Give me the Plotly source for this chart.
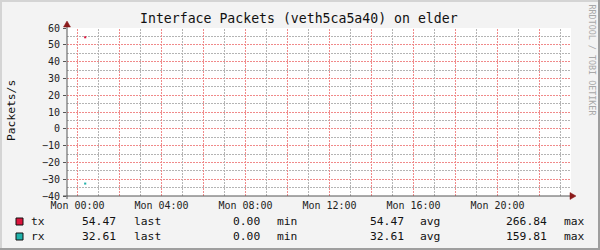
import plotly.graph_objects as go

# ---- data ----
series = ["tx", "rx"]
colors = ["#DC143C", "#20B2AA"]
times = ["2024-01-01 00:19", "2024-01-01 00:25"]
tx_values = [54.47, 54.47]
rx_values = [-32.61, -32.61]          # rx drawn below zero
last_vals = ["54.47", "32.61"]
min_vals = ["0.00", "0.00"]
avg_vals = ["54.47", "32.61"]
max_vals = ["266.84", "159.81"]
xtick_hours = [0, 2, 4, 6, 8, 10, 12, 14, 16, 18, 20, 22]
xtick_text = ["Mon 00:00", "", "Mon 04:00", "", "Mon 08:00", "", "Mon 12:00", "",
              "Mon 16:00", "", "Mon 20:00", ""]
xminor_hours = [1, 3, 5, 7, 9, 11, 13, 15, 17, 19, 21, 23]
yticks = [-40, -30, -20, -10, 0, 10, 20, 30, 40, 50, 60]
yminor = [-35, -25, -15, -5, 5, 15, 25, 35, 45, 55]

W, H = 600, 250
L, R, T, B = 67, 29, 28, 54
PW, PH = W - L - R, H - T - B
FONT = "DejaVu Sans Mono"
MAJOR = "#F08A8A"
MINOR = "#B4B4B4"
DASH = "2px,1px"


def xp(px):
    return (px - L) / PW


def yp(py):
    return (T + PH - py) / PH


tickvals = ["2024-01-01 %02d:00" % h for h in xtick_hours]
minorvals = ["2024-01-01 %02d:00" % h for h in xminor_hours]

fig = go.Figure()


def vgrid(vals, color):
    xs, ys = [], []
    for v in vals:
        xs += [v, v, None]
        ys += [yticks[0], yticks[-1], None]
    fig.add_trace(go.Scatter(x=xs, y=ys, mode="lines", line=dict(color=color, width=1, dash=DASH),
                             showlegend=False, hoverinfo="skip", connectgaps=False))


vgrid(minorvals, MINOR)
vgrid(tickvals, MAJOR)

for name, vals, c in zip(series, [tx_values, rx_values], colors):
    fig.add_trace(go.Scatter(x=times, y=vals, mode="lines", line=dict(color=c, width=2),
                             name=name, showlegend=False, hoverinfo="skip"))

fig.update_layout(
    width=W, height=H,
    margin=dict(l=L, r=R, t=T, b=B, pad=0),
    paper_bgcolor="#F3F3F3", plot_bgcolor="white",
    font=dict(family=FONT, size=10, color="#222"),
    xaxis=dict(
        type="date", range=["2023-12-31 23:30", "2024-01-01 23:30"],
        tickmode="array", tickvals=tickvals, ticktext=xtick_text,
        showgrid=False, showline=False, zeroline=False, ticks="", ticklabelstandoff=2,
        tickfont=dict(family=FONT, size=10, color="#222"),
    ),
    yaxis=dict(
        range=[-40, 60], tickmode="array", tickvals=yticks,
        showgrid=True, gridcolor=MAJOR, griddash=DASH, gridwidth=1,
        minor=dict(tickmode="array", tickvals=yminor, showgrid=True, gridcolor=MINOR,
                   griddash=DASH, gridwidth=1),
        showline=False, zeroline=False, ticks="outside", ticklen=3, tickcolor="#555",
        ticklabelstandoff=1,
        tickfont=dict(family=FONT, size=10, color="#222"),
    ),
)

shapes = []
# border
shapes.append(dict(type="rect", xref="paper", yref="paper", x0=xp(0), x1=xp(600), y0=yp(0), y1=yp(2),
                   fillcolor="#D4D4D4", line=dict(width=0), layer="above"))
shapes.append(dict(type="rect", xref="paper", yref="paper", x0=xp(0), x1=xp(2), y0=yp(0), y1=yp(250),
                   fillcolor="#D4D4D4", line=dict(width=0), layer="above"))
shapes.append(dict(type="rect", xref="paper", yref="paper", x0=xp(0), x1=xp(600), y0=yp(248), y1=yp(250),
                   fillcolor="#9E9E9E", line=dict(width=0), layer="above"))
shapes.append(dict(type="rect", xref="paper", yref="paper", x0=xp(598), x1=xp(600), y0=yp(0), y1=yp(250),
                   fillcolor="#9E9E9E", line=dict(width=0), layer="above"))
# axes
shapes.append(dict(type="line", xref="paper", yref="paper", x0=xp(63), x1=xp(572), y0=0, y1=0,
                   line=dict(color="#555", width=1), layer="above"))
shapes.append(dict(type="line", xref="paper", yref="paper", x0=0, x1=0, y0=yp(199), y1=yp(24),
                   line=dict(color="#555", width=1), layer="above"))
# arrows
shapes.append(dict(type="path", xref="paper", yref="paper",
                   path="M %f,%f L %f,%f L %f,%f Z" % (xp(63.5), yp(27), xp(70.5), yp(27), xp(67), yp(21)),
                   fillcolor="#8B1A1A", line=dict(color="#8B1A1A", width=0.5), layer="above"))
shapes.append(dict(type="path", xref="paper", yref="paper",
                   path="M %f,%f L %f,%f L %f,%f Z" % (xp(570), yp(192.5), xp(570), yp(199.5), xp(576), yp(196)),
                   fillcolor="#8B1A1A", line=dict(color="#8B1A1A", width=0.5), layer="above"))
# legend squares
for i, c in enumerate(colors):
    y0 = 218 + 15 * i
    shapes.append(dict(type="rect", xref="paper", yref="paper", x0=xp(16), x1=xp(23), y0=yp(y0), y1=yp(y0 + 7),
                       fillcolor=c, line=dict(color="#111", width=1), layer="above"))
fig.update_layout(shapes=shapes)

ann = []


def text(px, py, s, anchor="left", size=11.3, color="#111", angle=0):
    ann.append(dict(xref="paper", yref="paper", x=xp(px), y=yp(py), text=s, showarrow=False,
                    xanchor=anchor, yanchor="middle", borderpad=0, textangle=angle,
                    font=dict(family=FONT, size=size, color=color)))


text(299, 19, "Interface Packets (veth5ca5a40) on elder", anchor="center", size=13.2)
text(11, 111, "Packets/s", anchor="center", size=11.3, angle=-90)
text(591.5, 60, "RRDTOOL / TOBI OETIKER", anchor="center", size=8.4, color="#A8A8A8", angle=90)

for i, name in enumerate(series):
    y = 221.7 + 15 * i
    text(30, y, name)
    text(116.7, y, last_vals[i], anchor="right")
    text(132.7, y, "last")
    text(261, y, min_vals[i], anchor="right")
    text(276, y, "min")
    text(405, y, avg_vals[i], anchor="right")
    text(419.3, y, "avg")
    text(548.3, y, max_vals[i], anchor="right")
    text(563.3, y, "max")

fig.update_layout(annotations=ann)
fig.write_html("out.html")
